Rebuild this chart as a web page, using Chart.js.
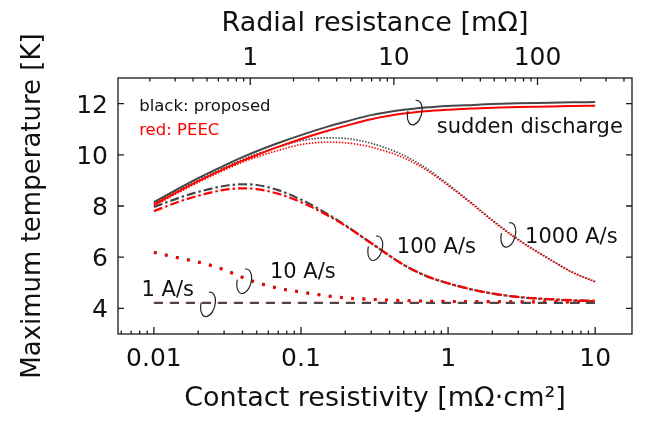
<!DOCTYPE html>
<html lang="en">
<head>
<meta charset="UTF-8">
<title>max temperature vs contact resistivity</title>
<script src="https://cdn.jsdelivr.net/npm/chart.js@4.4.1/dist/chart.umd.min.js"></script>
<style>
	html, body { margin:0; padding:0; background:#fff; }
	#wrap { width:651px; height:421px; }
</style>
</head>
<body>
<div id="wrap"><canvas id="chart" width="651" height="421"></canvas></div>
<script>

// contact resistivity [mOhm cm2]
var rho = [0.01, 0.015, 0.02, 0.03, 0.04, 0.05, 0.07, 0.1, 0.15, 0.2, 0.3, 0.5, 0.7, 1, 1.5, 2, 3, 5, 7, 10];

// max temperature [K], black = proposed, red = PEEC
var suddenProposed = [8.15, 8.71, 9.09, 9.58, 9.91, 10.14, 10.46, 10.77, 11.09, 11.29, 11.55, 11.76, 11.85, 11.91, 11.95, 11.98, 12.01, 12.03, 12.05, 12.06];
var suddenPeec     = [8.05, 8.6, 8.97, 9.45, 9.77, 9.99, 10.31, 10.62, 10.93, 11.13, 11.39, 11.61, 11.7, 11.76, 11.81, 11.84, 11.87, 11.89, 11.91, 11.92];
var r1000Proposed  = [8.1, 8.65, 9.02, 9.5, 9.82, 10.03, 10.3, 10.55, 10.66, 10.64, 10.45, 9.98, 9.5, 8.85, 8.05, 7.45, 6.7, 5.9, 5.42, 5.05];
var r1000Peec      = [8.0, 8.55, 8.92, 9.4, 9.71, 9.91, 10.17, 10.4, 10.49, 10.47, 10.3, 9.88, 9.43, 8.8, 8.01, 7.42, 6.67, 5.88, 5.4, 5.03];
var r100Proposed   = [7.96, 8.33, 8.55, 8.78, 8.85, 8.82, 8.62, 8.25, 7.7, 7.25, 6.55, 5.7, 5.28, 4.98, 4.72, 4.58, 4.44, 4.35, 4.31, 4.28];
var r100Peec       = [7.8, 8.18, 8.4, 8.63, 8.69, 8.66, 8.48, 8.15, 7.65, 7.23, 6.55, 5.7, 5.28, 4.98, 4.72, 4.58, 4.45, 4.36, 4.32, 4.3];
var r10Proposed    = [6.2, 5.97, 5.82, 5.52, 5.22, 5.02, 4.8, 4.65, 4.5, 4.42, 4.36, 4.31, 4.29, 4.28, 4.27, 4.27, 4.26, 4.26, 4.26, 4.26];
var r10Peec        = [6.18, 5.95, 5.8, 5.5, 5.2, 5.0, 4.78, 4.63, 4.48, 4.4, 4.35, 4.3, 4.28, 4.27, 4.26, 4.26, 4.25, 4.25, 4.25, 4.25];
var r1Proposed     = [4.21, 4.21, 4.21, 4.21, 4.21, 4.21, 4.21, 4.21, 4.21, 4.21, 4.21, 4.21, 4.21, 4.21, 4.21, 4.21, 4.21, 4.21, 4.21, 4.21];
var r1Peec         = [4.22, 4.22, 4.22, 4.22, 4.22, 4.22, 4.22, 4.22, 4.22, 4.22, 4.22, 4.22, 4.22, 4.22, 4.22, 4.22, 4.22, 4.22, 4.22, 4.22];

var xTicks = [0.01, 0.1, 1, 10];
var xTickLabels = ["0.01", "0.1", "1", "10"];
var topTicks = [1, 10, 100];
var topTickLabels = ["1", "10", "100"];
var yTicks = [4, 6, 8, 10, 12];
var yTickLabels = ["4", "6", "8", "10", "12"];

// text notes and loop marks, placed in data units
var notes = [
	{text:"sudden discharge", x:0.837, y:10.86},
	{text:"1000 A/s", x:3.34, y:6.54},
	{text:"100 A/s", x:0.448, y:6.17},
	{text:"10 A/s", x:0.0615, y:5.19},
	{text:"1 A/s", x:0.00824, y:4.5}
];
var loops = [
	{x:0.5935, y:11.65},
	{x:2.568, y:6.87},
	{x:0.3198, y:6.35},
	{x:0.0411, y:5.06},
	{x:0.02333, y:4.16}
];

var FONT = "'DejaVu Sans', sans-serif";
var GREY = "#474747", RED = "#ff0000";

function series(label, vals, color, dash, width, order) {
	return {
		label: label,
		data: rho.map(function(r, i) { return {x: r, y: vals[i]}; }),
		borderColor: color,
		borderWidth: width,
		borderDash: dash,
		pointRadius: 0,
		fill: false,
		cubicInterpolationMode: "monotone",
		order: order
	};
}

var datasets = [
	series("sudden proposed", suddenProposed, GREY, [], 2, 2),
	series("sudden PEEC", suddenPeec, RED, [], 2, 1),
	series("1000 proposed", r1000Proposed, GREY, [1.5, 1.5], 1.6, 2),
	series("1000 PEEC", r1000Peec, RED, [1.5, 1.5], 1.6, 1),
	series("100 proposed", r100Proposed, GREY, [9, 3, 2.5, 3], 2.2, 2),
	series("100 PEEC", r100Peec, RED, [9, 3, 2.5, 3], 2.2, 1),
	series("10 proposed", r10Proposed, GREY, [2.8, 8.5], 2.8, 2),
	series("10 PEEC", r10Peec, RED, [2.8, 8.5], 2.8, 1),
	series("1 PEEC", r1Peec, RED, [9, 7], 2, 1),
	series("1 proposed", r1Proposed, GREY, [9, 7], 2, 0)
];

var decor = {
	id: "decor",
	afterDatasetsDraw: function(chart) {
		var ctx = chart.ctx, a = chart.chartArea;
		var xs = chart.scales.x, ts = chart.scales.x2, ys = chart.scales.y;
		ctx.save();

		// frame + inward ticks
		ctx.strokeStyle = "#1a1a1a";
		ctx.lineWidth = 1.3;
		ctx.strokeRect(a.left, a.top, a.right - a.left, a.bottom - a.top);

		function logTicks(scale, edge, dir) {
			var lo = Math.floor(Math.log10(scale.min)), hi = Math.ceil(Math.log10(scale.max));
			for (var e = lo; e <= hi; e++) {
				for (var m = 1; m < 10; m++) {
					var v = m * Math.pow(10, e);
					if (v < scale.min || v > scale.max) continue;
					var px = scale.getPixelForValue(v);
					var len = m === 1 ? 7 : 3.5;
					ctx.beginPath();
					ctx.moveTo(px, edge);
					ctx.lineTo(px, edge + dir * len);
					ctx.stroke();
				}
			}
		}
		logTicks(xs, a.bottom, -1);
		logTicks(ts, a.top, 1);
		yTicks.forEach(function(v) {
			var py = ys.getPixelForValue(v);
			ctx.beginPath();
			ctx.moveTo(a.left, py); ctx.lineTo(a.left + 6, py);
			ctx.moveTo(a.right, py); ctx.lineTo(a.right - 6, py);
			ctx.stroke();
		});

		// tick labels
		ctx.fillStyle = "#111";
		ctx.font = "25px " + FONT;
		ctx.textBaseline = "alphabetic";
		ctx.textAlign = "center";
		xTicks.forEach(function(v, i) {
			ctx.fillText(xTickLabels[i], xs.getPixelForValue(v), a.bottom + 32);
		});
		topTicks.forEach(function(v, i) {
			ctx.fillText(topTickLabels[i], ts.getPixelForValue(v), a.top - 13);
		});
		ctx.textAlign = "right";
		yTicks.forEach(function(v, i) {
			ctx.fillText(yTickLabels[i], a.left - 10, ys.getPixelForValue(v) + 9);
		});

		// axis titles
		var cx = (a.left + a.right) / 2;
		ctx.textAlign = "center";
		ctx.font = "27px " + FONT;
		ctx.fillText("Radial resistance [m\u03A9]", cx, 31);
		ctx.fillText("Contact resistivity [m\u03A9\u00B7cm\u00B2]", cx, 406);
		ctx.save();
		ctx.translate(40, (a.top + a.bottom) / 2);
		ctx.rotate(-Math.PI / 2);
		ctx.font = "26px " + FONT;
		ctx.fillText("Maximum temperature [K]", 0, 0);
		ctx.restore();

		// legend text
		ctx.textAlign = "left";
		ctx.font = "16.5px " + FONT;
		ctx.fillStyle = "#111";
		ctx.fillText("black: proposed", xs.getPixelForValue(0.00794), ys.getPixelForValue(11.7));
		ctx.fillStyle = RED;
		ctx.fillText("red: PEEC", xs.getPixelForValue(0.00794), ys.getPixelForValue(10.76));

		// curve notes
		ctx.fillStyle = "#111";
		ctx.font = "21px " + FONT;
		notes.forEach(function(n) {
			ctx.fillText(n.text, xs.getPixelForValue(n.x), ys.getPixelForValue(n.y));
		});

		// loop marks around the curve pairs
		ctx.strokeStyle = "#222";
		ctx.lineWidth = 1.2;
		loops.forEach(function(l) {
			ctx.beginPath();
			ctx.ellipse(xs.getPixelForValue(l.x), ys.getPixelForValue(l.y), 7, 12.5, 0.25, 1.4 * Math.PI, 3 * Math.PI);
			ctx.stroke();
		});

		ctx.restore();
	}
};

new Chart(document.getElementById("chart"), {
	type: "line",
	data: {datasets: datasets},
	options: {
		responsive: false,
		animation: false,
		devicePixelRatio: 1,
		layout: {padding: {left: 0, right: 19, top: 0, bottom: 0}, autoPadding: false},
		plugins: {legend: {display: false}, tooltip: {enabled: false}},
		scales: {
			x: {
				type: "logarithmic", position: "bottom",
				min: 0.0057, max: 17.8,
				grid: {display: false}, border: {display: false},
				ticks: {display: false},
				afterFit: function(s) { s.height = 87; }
			},
			x2: {
				type: "logarithmic", position: "top", axis: "x",
				min: 0.12, max: 455,
				grid: {display: false}, border: {display: false},
				ticks: {display: false},
				afterFit: function(s) { s.height = 78; }
			},
			y: {
				type: "linear", position: "left",
				min: 3, max: 13,
				grid: {display: false}, border: {display: false},
				ticks: {display: false},
				afterFit: function(s) { s.width = 118; }
			}
		}
	},
	plugins: [decor]
});

</script>
</body>
</html>
